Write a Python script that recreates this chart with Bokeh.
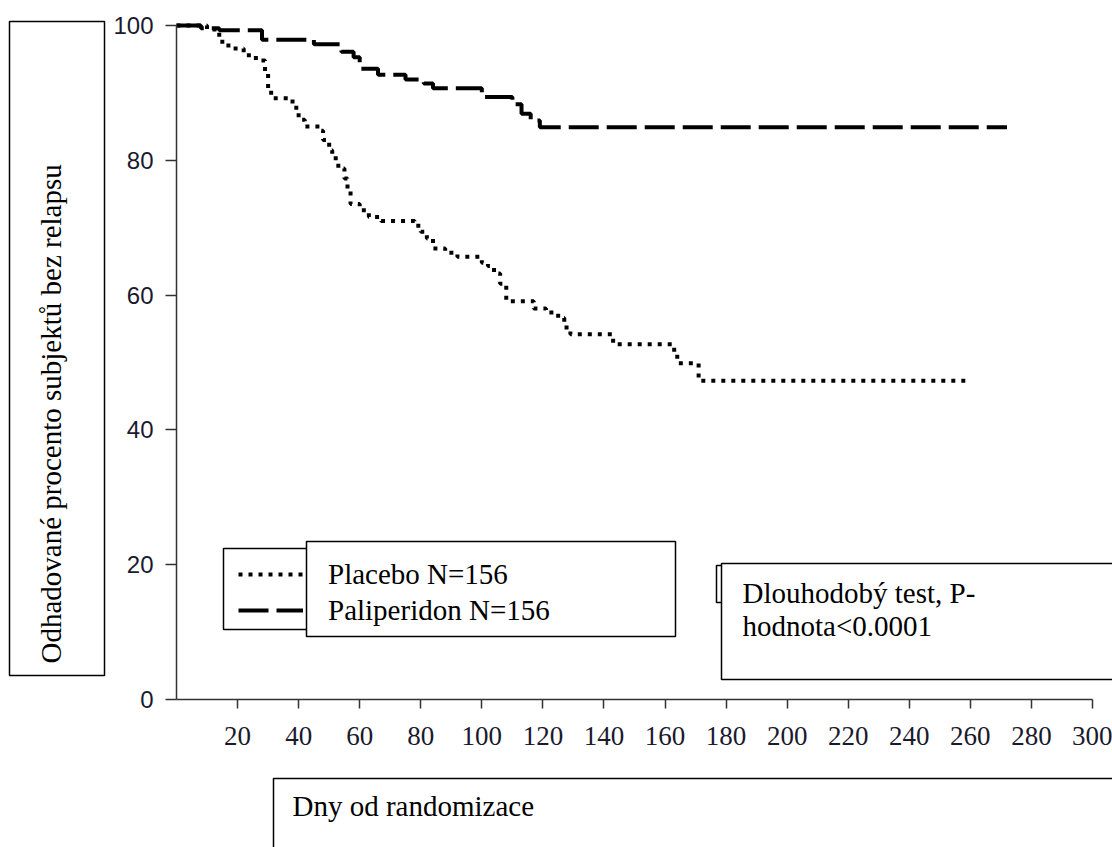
import math
from bokeh.plotting import figure
from bokeh.models import Range1d, FixedTicker, BoxAnnotation, Label, Legend, LegendItem
from bokeh.embed import file_html
from bokeh.resources import INLINE

# ---------------- data ----------------
pali_days = [0, 8, 14, 28, 45, 54, 58, 60, 66, 75, 81, 84, 100, 110, 113, 116, 119, 272]
pali_surv = [100, 99.6, 99.3, 97.9, 97.2, 96.1, 95.3, 93.6, 92.7, 92.0, 91.4, 90.7,
             89.4, 88.3, 86.9, 85.9, 84.9, 84.9]

plac_days = [0, 10, 14, 17, 22, 26, 29, 30, 31, 38, 40, 42, 47, 48, 50, 51, 53, 55, 56,
             57, 60, 63, 67, 78, 80, 82, 84, 88, 92, 100, 102, 104, 106, 108, 117, 121,
             125, 127, 129, 143, 163, 164, 171, 260]
plac_surv = [100, 99.4, 97.6, 96.6, 95.6, 94.8, 93.0, 90.5, 89.2, 87.8, 86.0, 85.0, 84.4,
             83.0, 81.5, 80.3, 78.8, 77.3, 75.8, 73.5, 72.6, 71.6, 71.0, 70.3, 69.4, 68.4,
             66.9, 66.3, 65.7, 64.8, 64.3, 63.2, 61.7, 59.1, 58.0, 57.4, 56.6, 55.2, 54.2,
             52.7, 51.3, 49.9, 47.3, 47.3]

x_ticks = [20, 40, 60, 80, 100, 120, 140, 160, 180, 200, 220, 240, 260, 280, 300]
y_ticks = [0, 20, 40, 60, 80, 100]
series_labels = ["Placebo N=156", "Paliperidon N=156"]
x_title = "Dny od randomizace"
y_title = "Odhadované procento subjektů bez relapsu"
test_lines = ["Dlouhodobý test, P-", "hodnota<0.0001"]

# ---------------- layout (pixel geometry of the page) ----------------
W, H = 1112, 847
PX_X0, PX_X300 = 176, 1092      # pixel x of day 0 and day 300
PY_Y0, PY_Y100 = 699, 25        # pixel y of 0 % and 100 %
FX = (PX_X300 - PX_X0) / 300.0
FY = (PY_Y0 - PY_Y100) / 100.0
X_START = -PX_X0 / FX
X_END = (W - PX_X0) / FX
Y_START = -(H - PY_Y0) / FY
Y_END = PY_Y0 / FY


def dx(px):
    return (px - PX_X0) / FX


def dy(py):
    return (PY_Y0 - py) / FY


SERIF = "Liberation Serif"
SANS = "Liberation Sans"
INK = "#1a1a2e"

p = figure(width=W, height=H, x_range=Range1d(X_START, X_END), y_range=Range1d(Y_START, Y_END),
           output_backend="svg", toolbar_location=None,
           min_border_left=0, min_border_right=0, min_border_top=0, min_border_bottom=0)
p.outline_line_color = None
p.xgrid.visible = False
p.ygrid.visible = False
p.background_fill_color = "white"
p.border_fill_color = "white"

r_plac = p.step(plac_days, plac_surv, mode="after", line_color="black", line_width=4,
                line_dash="4 6")
r_pali = p.step(pali_days, pali_surv, mode="after", line_color="black", line_width=4,
                line_dash="30 8")

# axes, pinned at the data origin
xa = p.xaxis[0]
xa.fixed_location = 0
xa.ticker = FixedTicker(ticks=x_ticks)
xa.bounds = (0, 300)
xa.major_tick_out = 9
xa.major_tick_in = 0
xa.minor_tick_out = 0
xa.minor_tick_in = 0
xa.axis_line_width = 1.5
xa.axis_line_color = "#333333"
xa.major_tick_line_color = "#333333"
xa.major_tick_line_width = 1.5
xa.major_label_text_font = SERIF
xa.major_label_text_font_size = "27px"
xa.major_label_text_color = INK
xa.major_label_standoff = 18

ya = p.yaxis[0]
ya.fixed_location = 0
ya.ticker = FixedTicker(ticks=y_ticks)
ya.bounds = (0, 100)
ya.major_tick_out = 11
ya.major_tick_in = 0
ya.minor_tick_out = 0
ya.minor_tick_in = 0
ya.axis_line_width = 1.5
ya.axis_line_color = "#333333"
ya.major_tick_line_color = "#333333"
ya.major_tick_line_width = 1.5
ya.major_label_text_font = SANS
ya.major_label_text_font_size = "24px"
ya.major_label_text_color = INK
ya.major_label_standoff = 12


def box(l, r, t, b, fill="white"):
    return BoxAnnotation(left=dx(l), right=dx(r), top=dy(t), bottom=dy(b),
                         fill_color=fill, fill_alpha=1.0,
                         line_color="black", line_width=1.5, line_alpha=1.0)


# y title box
p.add_layout(box(9, 104, 21, 675))
# legend boxes
p.add_layout(box(223, 672, 548, 629))
p.add_layout(box(306, 675, 541, 636))
# p-value boxes
p.add_layout(box(716, 760, 565, 602))
p.add_layout(box(721, 1140, 563, 679))
# x title box
p.add_layout(box(273, 1140, 778, 880))

legend = Legend(items=[LegendItem(label=series_labels[0], renderers=[r_plac]),
                       LegendItem(label=series_labels[1], renderers=[r_pali])],
                location=(238, H - 628), padding=0, margin=0, spacing=0,
                glyph_width=65, glyph_height=36, label_height=36, label_standoff=25,
                label_text_font=SERIF, label_text_font_size="29px", label_text_color="black",
                border_line_color=None, background_fill_alpha=0)
p.add_layout(legend)

p.add_layout(Label(x=dx(50), y=dy(663), text=y_title, angle=math.pi / 2,
                   text_align="left", text_baseline="middle",
                   text_font=SERIF, text_font_size="29px", text_color="black"))
p.add_layout(Label(x=dx(292), y=dy(805), text=x_title,
                   text_align="left", text_baseline="middle",
                   text_font=SERIF, text_font_size="29px", text_color="black"))
p.add_layout(Label(x=dx(742), y=dy(592), text=test_lines[0],
                   text_align="left", text_baseline="middle",
                   text_font=SERIF, text_font_size="29px", text_color="black"))
p.add_layout(Label(x=dx(742), y=dy(625), text=test_lines[1],
                   text_align="left", text_baseline="middle",
                   text_font=SERIF, text_font_size="29px", text_color="black"))

open("out.html", "w").write(file_html(p, INLINE))
